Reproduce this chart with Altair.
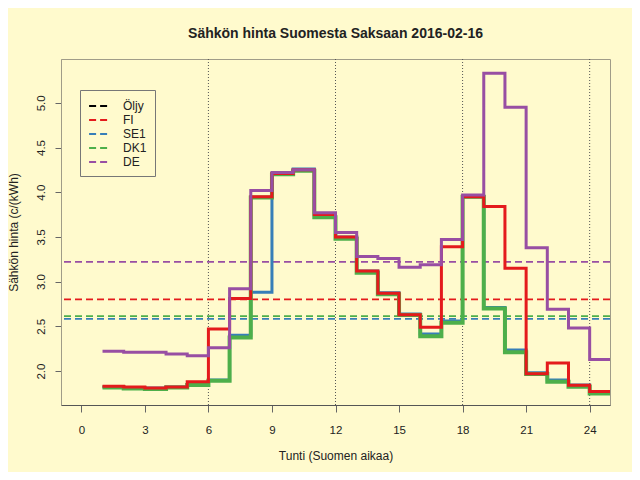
import altair as alt
import pandas as pd

# --- data ---
hours = list(range(1, 25))
fi = [1.83, 1.82, 1.81, 1.82, 1.88, 2.47, 2.81, 3.95, 4.21, 4.25, 3.75, 3.50,
      3.12, 2.87, 2.63, 2.49, 3.39, 3.95, 3.84, 3.15, 1.97, 2.09, 1.84, 1.77]
se1 = [1.82, 1.81, 1.81, 1.82, 1.85, 1.90, 2.40, 2.88, 4.21, 4.26, 3.745, 3.50,
       3.12, 2.875, 2.637, 2.413, 2.56, 3.95, 2.71, 2.235, 1.98, 1.90, 1.843, 1.76]
dk1 = [1.815, 1.805, 1.80, 1.815, 1.843, 1.89, 2.376, 3.94, 4.20, 4.24, 3.72, 3.48,
       3.10, 2.858, 2.626, 2.39, 2.54, 3.95, 2.70, 2.21, 1.966, 1.88, 1.825, 1.75]
de = [2.22, 2.21, 2.21, 2.19, 2.17, 2.26, 2.92, 4.02, 4.22, 4.25, 3.77, 3.55,
      3.28, 3.26, 3.16, 3.19, 3.47, 3.97, 5.33, 4.95, 3.38, 2.69, 2.48, 2.13]

series_names = ["Öljy", "FI", "SE1", "DK1", "DE"]
series_colors = ["#000000", "#E41A1C", "#377EB8", "#4DAF4A", "#984EA3"]
x_ticks = [0, 3, 6, 9, 12, 15, 18, 21, 24]
y_ticks = [2.0, 2.5, 3.0, 3.5, 4.0, 4.5, 5.0]
v_lines = [6, 12, 18, 24]

rows = []
for name, vals in [("FI", fi), ("SE1", se1), ("DK1", dk1), ("DE", de)]:
    for h, v in zip(hours, vals):
        rows.append({"series": name, "hour": h, "value": v, "real": True})
    # step end (repeat last value one hour later)
    rows.append({"series": name, "hour": hours[-1] + 1, "value": vals[-1], "real": False})
df = pd.DataFrame(rows)
vdf = pd.DataFrame({"h": v_lines})

FONT = "Liberation Sans"
xscale = alt.Scale(domain=[-0.96, 24.96], nice=False, zero=False)
yscale = alt.Scale(domain=[1.62, 5.49], nice=False, zero=False)
cscale = alt.Scale(domain=series_names, range=series_colors)

xaxis = alt.Axis(title="Tunti (Suomen aikaa)", values=x_ticks, grid=False,
                 tickSize=7, tickColor="#666", domainColor="#555",
                 labelPadding=12, titlePadding=15, labelFontSize=11.5,
                 titleFontSize=12, titleFontWeight="normal")
yaxis = alt.Axis(title="Sähkön hinta (c/(kWh)", values=y_ticks, format=".1f",
                 grid=False, tickSize=6, tickColor="#666", domainColor="#a09c88",
                 labelAngle=-90, labelAlign="center", labelBaseline="bottom",
                 labelPadding=9, titlePadding=15, labelFontSize=11.5,
                 titleFontSize=12, titleFontWeight="normal")

legend = alt.Legend(title=None, orient="none", legendX=19, legendY=31,
                    symbolType="M-1.4,0H1.4", symbolSize=200, symbolStrokeWidth=1.8,
                    symbolDash=[7, 4], symbolFillColor="transparent",
                    symbolOffset=3, labelFontSize=12, labelOffset=16,
                    padding=8, strokeColor="#777", rowPadding=0,
                    labelColor="#222", labelFont=FONT)

base = alt.Chart(df)

vrules = alt.Chart(vdf).mark_rule(color="#555", strokeDash=[1, 2], strokeWidth=1).encode(
    x=alt.X("h:Q", scale=xscale, axis=xaxis)
)

means = base.transform_filter("datum.real").transform_aggregate(
    mean_value="mean(value)", groupby=["series"]
).mark_rule(strokeDash=[7, 4], strokeWidth=1.8).encode(
    y=alt.Y("mean_value:Q", scale=yscale, axis=yaxis),
    color=alt.Color("series:N", scale=cscale, legend=legend),
)

def line_layer(name, width):
    return base.transform_filter(alt.datum.series == name).mark_line(
        interpolate="step-after", strokeWidth=width, clip=True
    ).encode(
        x=alt.X("hour:Q", scale=xscale, axis=xaxis),
        y=alt.Y("value:Q", scale=yscale, axis=yaxis),
        color=alt.Color("series:N", scale=cscale, legend=None),
    )

chart = alt.layer(
    vrules, means,
    line_layer("SE1", 3), line_layer("DK1", 4), line_layer("FI", 3), line_layer("DE", 3),
).properties(
    width=549, height=346,
    autosize=alt.AutoSizeParams(type="none"),
    padding={"left": 53, "top": 51, "right": 22, "bottom": 67},
    background="#FFFACD",
    title=alt.Title("Sähkön hinta Suomesta Saksaan 2016-02-16", fontSize=14,
                    fontWeight="bold", font=FONT, color="#222", offset=18),
).configure_view(
    stroke="#a09c88", strokeWidth=1
).configure_axis(
    labelFont=FONT, titleFont=FONT, labelColor="#222", titleColor="#222"
)

chart.save("out.html", embed_options={"renderer": "svg", "actions": False})
